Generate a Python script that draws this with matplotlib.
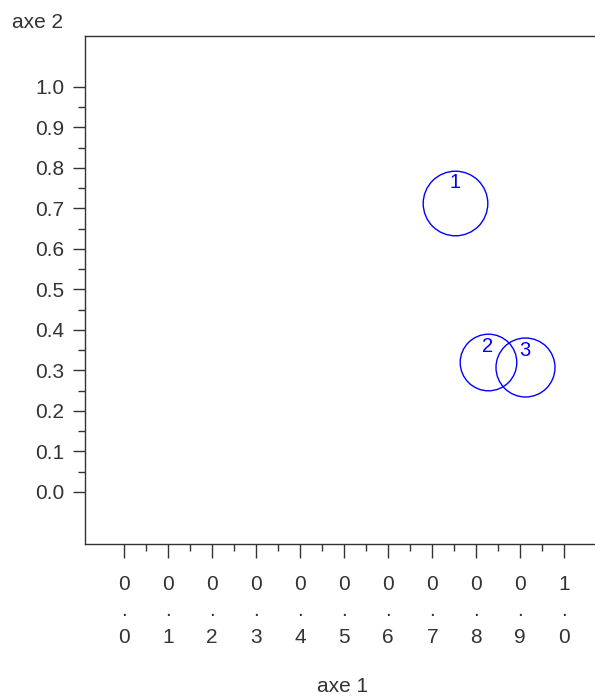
import matplotlib
matplotlib.use("Agg")
import matplotlib.pyplot as plt

# points: (axe 1, axe 2) with a radius for each circle
ids = ["1", "2", "3"]
x_vals = [0.752, 0.826, 0.911]
y_vals = [0.714, 0.320, 0.308]
radius_px = [32.3, 28.3, 29.5]

x_ticks = [0.0, 0.1, 0.2, 0.3, 0.4, 0.5, 0.6, 0.7, 0.8, 0.9, 1.0]
y_ticks = [0.0, 0.1, 0.2, 0.3, 0.4, 0.5, 0.6, 0.7, 0.8, 0.9, 1.0]

plt.rcParams['font.family'] = ['Liberation Sans', 'DejaVu Sans']
plt.rcParams['font.size'] = 15
ink = '#333333'

W, H = 595, 698
fig = plt.figure(figsize=(W / 100, H / 100), dpi=100)
# box runs past the right edge of the figure
ax = fig.add_axes([85 / W, 1 - 544 / H, 515 / W, 508 / H])
ax.set_xlim(-0.0886, 1.0811)
ax.set_ylim(-0.1284, 1.1259)

ax.spines['right'].set_visible(False)
for s in ['left', 'top', 'bottom']:
    ax.spines[s].set_color(ink)
    ax.spines[s].set_linewidth(1.0)

# circles drawn as hollow markers, number written at the top
for i, x, y, r in zip(ids, x_vals, y_vals, radius_px):
    ax.plot(x, y, 'o', markersize=2 * r * 0.72, markerfacecolor='none',
            markeredgecolor='blue', markeredgewidth=1.0)
    ax.annotate(i, (x, y), xytext=(0, r * 0.72 - 2), textcoords='offset points',
                ha='center', va='top', color='blue', fontsize=14.5)

# x tick labels written one character per line
xlabels = ["\n.\n".join(f"{v:.1f}".split(".")) for v in x_ticks]
ax.set_xticks(x_ticks, labels=xlabels)
ax.set_xticks([v + 0.05 for v in x_ticks[:-1]], minor=True)
ax.set_yticks(y_ticks, labels=[f"{v:.1f}" for v in y_ticks])
ax.set_yticks([v + 0.05 for v in y_ticks[:-1]], minor=True)

ax.tick_params(axis='x', which='major', length=10, width=1.0, color=ink,
               labelcolor=ink, pad=12)
ax.tick_params(axis='x', which='minor', length=5, width=1.0, color=ink)
ax.tick_params(axis='y', which='major', length=9, width=1.0, color=ink,
               labelcolor=ink, pad=6)
ax.tick_params(axis='y', which='minor', length=5, width=1.0, color=ink)
for lab in ax.get_xticklabels():
    lab.set_linespacing(1.5)

ax.set_xlabel("axe 1", color=ink, labelpad=22)
fig.text(38 / W, 1 - 22 / H, "axe 2", ha='center', va='center', color=ink)

fig.savefig("out.png", dpi=100)
